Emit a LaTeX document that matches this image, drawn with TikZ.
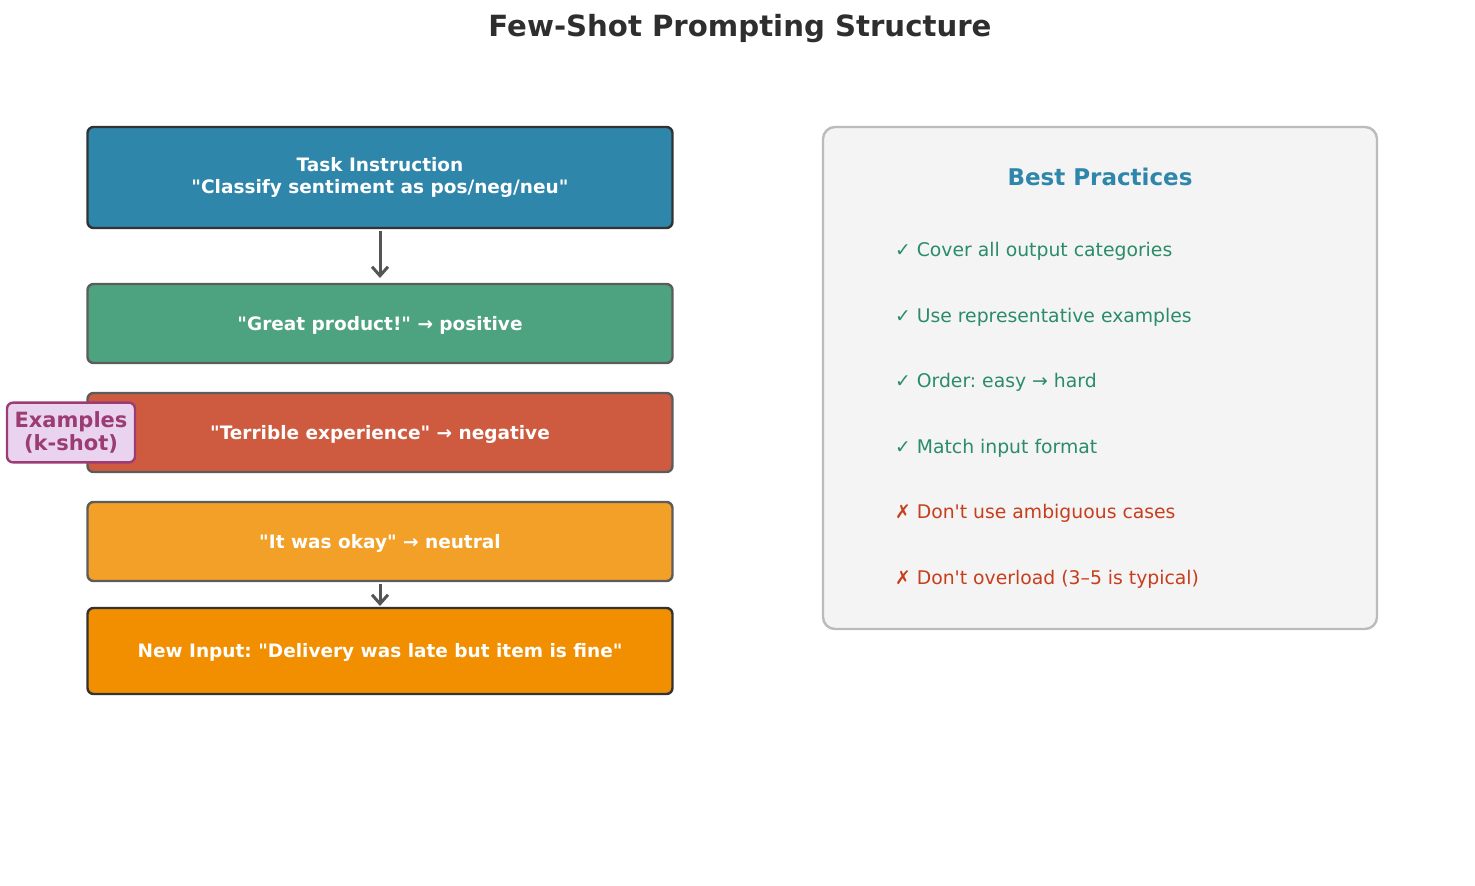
\documentclass[tikz,border=0pt]{standalone}
\usepackage{fontspec}
\setmainfont{DejaVu Sans}
\usepackage{tikz}
\usetikzlibrary{
arrows.meta,
positioning
}
\definecolor{fsblue}{HTML}{2E86AB}
\definecolor{fsgreen}{HTML}{4DA37F}
\definecolor{fsred}{HTML}{CE5B3F}
\definecolor{fsyellow}{HTML}{F2A028}
\definecolor{fsorange}{HTML}{F18F01}
\definecolor{fsplum}{HTML}{9B3C74}
\definecolor{fslilac}{HTML}{EAD3EE}
\definecolor{fsok}{HTML}{2A8C68}
\definecolor{fsbad}{HTML}{C73E1D}
\definecolor{fsgrey}{HTML}{F4F4F4}
\definecolor{fsrim}{HTML}{BBBBBB}
\definecolor{fsdark}{HTML}{333333}
\definecolor{fsarrow}{HTML}{555555}
\newcommand{\qq}{\textquotedbl}
\newcommand{\ap}{\textquotesingle}
\frenchspacing

\begin{document}
\begin{tikzpicture}[
  x=0.5pt, y=-0.5pt,
  step box/.style={draw=fsdark!80!white, line width=1.2pt, outer sep=0pt, rounded corners=3pt, minimum width=292.5pt, minimum height=39.5pt, align=center, text=white, font=\fontsize{9.25}{11}\selectfont\bfseries},
  main box/.style={step box, draw=fsdark},
  one line/.style={text height=9pt, text depth=2.2pt},
  tip/.style={font=\fontsize{9.4}{11}\selectfont, anchor=west},
  flow/.style={draw=fsarrow, line width=1.5pt, -{Straight Barb[length=4.5pt, width=8pt, line width=1.5pt]}}
]
\useasboundingbox (0,0) rectangle (1475,885);

% Title
\node[font=\fontsize{14.6}{17}\selectfont\bfseries, text=fsdark!90!black] (title) at (740,29) {Few-Shot Prompting Structure};

% Prompt stack
\node[main box, fill=fsblue, minimum height=50.5pt] (task) at (380,177.5) {Task Instruction\\\qq Classify sentiment as pos/neg/neu\qq};
\node[step box, one line, fill=fsgreen, below=28pt of task] (ex1) {\qq Great product!\qq{} → positive};
\node[step box, one line, fill=fsred, below=15pt of ex1] (ex2) {\qq Terrible experience\qq{} → negative};
\node[step box, one line, fill=fsyellow, below=15pt of ex2] (ex3) {\qq It was okay\qq{} → neutral};
\node[main box, one line, fill=fsorange, minimum height=43pt, below=13.5pt of ex3] (query) {New Input: \qq Delivery was late but item is fine\qq};

% Examples tag
\node[draw=fsplum, fill=fslilac, line width=1.2pt, rounded corners=3pt, text=fsplum, align=center, inner xsep=3pt, inner ysep=4.5pt, minimum width=64pt, font=\fontsize{10.5}{11.5}\selectfont\bfseries] (kshot) at (71,432.5) {Examples\\(k-shot)};

% Arrows
\draw[flow, shorten <=1.5pt, shorten >=3pt] (task) -- (ex1);
\draw[flow, shorten <=1.5pt, shorten >=1pt] (ex3) -- (query);

% Best practices panel
\node[draw=fsrim, fill=fsgrey, line width=1.2pt, rounded corners=6pt, minimum width=277pt, minimum height=251pt] (panel) at (1100,378) {};
\node[font=\fontsize{11.5}{13}\selectfont\bfseries, text=fsblue] (bphead) at (1100,177) {Best Practices};
\node[tip, text=fsok] (bp1) at (888,251) {✓ Cover all output categories};
\node[tip, text=fsok] (bp2) at (888,317) {✓ Use representative examples};
\node[tip, text=fsok] (bp3) at (888,382) {✓ Order: easy → hard};
\node[tip, text=fsok] (bp4) at (888,448) {✓ Match input format};
\node[tip, text=fsbad] (bp5) at (888,513) {✗ Don\ap t use ambiguous cases};
\node[tip, text=fsbad] (bp6) at (888,579) {✗ Don\ap t overload (3–5 is typical)};

\end{tikzpicture}
\end{document}
